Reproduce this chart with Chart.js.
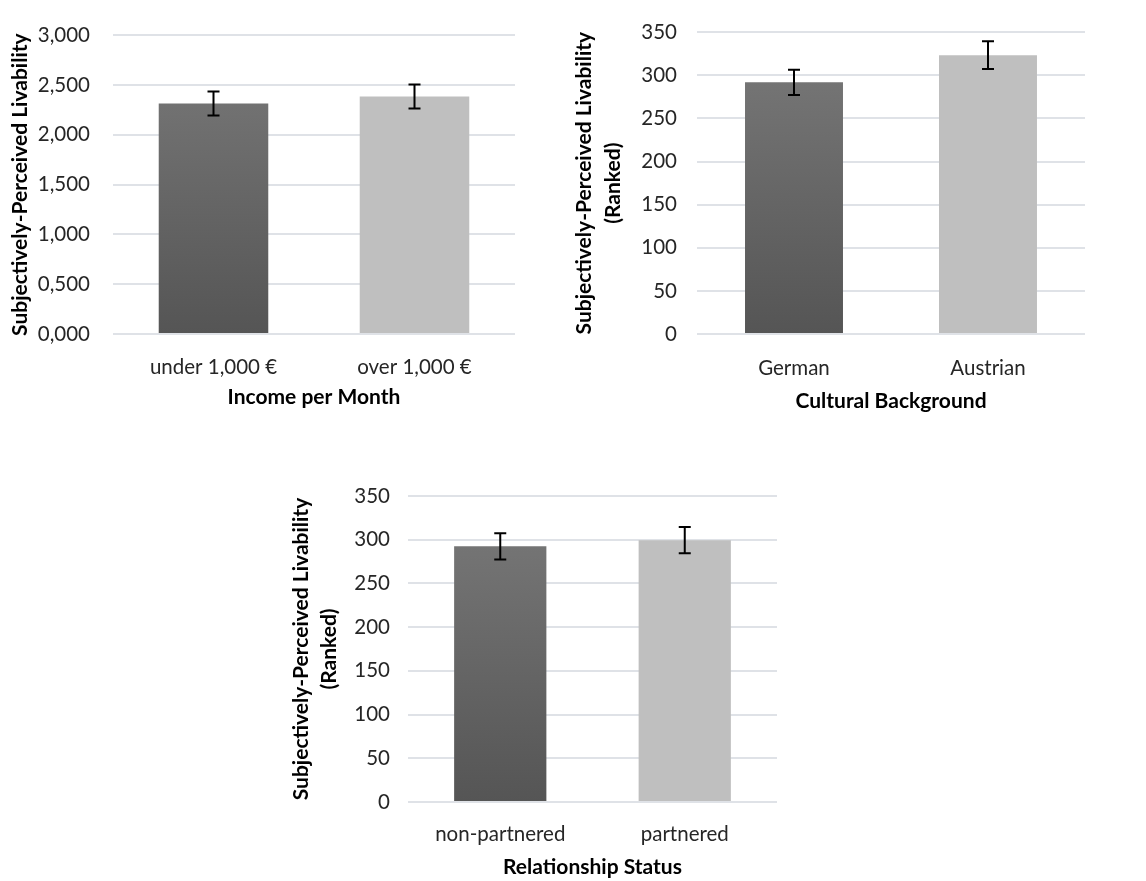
<!DOCTYPE html>
<html>
<head>
<meta charset="utf-8">
<script src="https://cdn.jsdelivr.net/npm/chart.js@4"></script>
<style>
  body { margin: 0; background: #fff; }
  #wrap { position: relative; width: 1146px; height: 881px; }
  canvas { position: absolute; }
</style>
</head>
<body>
<div id="wrap">
  <canvas id="chart1" width="530" height="420" style="left:0px;top:0px"></canvas>
  <canvas id="chart2" width="586" height="420" style="left:560px;top:0px"></canvas>
  <canvas id="chart3" width="510" height="421" style="left:280px;top:460px"></canvas>
</div>
<script>
// income groups
const incomeCats = ["under 1,000 €", "over 1,000 €"];
const incomeMeans = [2.315, 2.385];
const incomeErr = [0.12, 0.12];

// cultural background (ranked)
const cultureCats = ["German", "Austrian"];
const cultureMeans = [292, 323.5];
const cultureErr = [14.6, 16];

// relationship status (ranked)
const relCats = ["non-partnered", "partnered"];
const relMeans = [292.5, 299.5];
const relErr = [15, 15];

const yTitleMain = "Subjectively-Perceived Livability";

Chart.defaults.font.family = "Lato, 'Open Sans', sans-serif";
Chart.defaults.color = "#262626";

// dark bar gets a vertical gradient, light bar is flat
function barFill(ctx) {
  if (ctx.dataIndex === 1) return "#bfbfbf";
  const area = ctx.chart.chartArea;
  if (!area) return "#666666";
  const g = ctx.chart.ctx.createLinearGradient(0, area.top, 0, area.bottom);
  g.addColorStop(0, "#7a7a7a");
  g.addColorStop(1, "#555555");
  return g;
}

// whiskers drawn from the error arrays through the y scale
const errorBars = {
  id: "errorBars",
  afterDatasetsDraw(chart, args, opts) {
    const ctx = chart.ctx;
    const yScale = chart.scales.y;
    const meta = chart.getDatasetMeta(0);
    const vals = chart.data.datasets[0].data;
    ctx.save();
    ctx.strokeStyle = "#000";
    ctx.lineWidth = 2;
    meta.data.forEach((bar, i) => {
      const hi = yScale.getPixelForValue(vals[i] + opts.err[i]);
      const lo = yScale.getPixelForValue(vals[i] - opts.err[i]);
      const x = bar.x;
      ctx.beginPath();
      ctx.moveTo(x, hi); ctx.lineTo(x, lo);
      ctx.moveTo(x - 6, hi); ctx.lineTo(x + 6, hi);
      ctx.moveTo(x - 6, lo); ctx.lineTo(x + 6, lo);
      ctx.stroke();
    });
    ctx.restore();
  }
};

function makeChart(id, cats, means, err, cfg) {
  return new Chart(document.getElementById(id), {
    type: "bar",
    data: {
      labels: cats,
      datasets: [{
        data: means,
        backgroundColor: barFill,
        categoryPercentage: 1,
        barPercentage: cfg.barPct
      }]
    },
    options: {
      responsive: false,
      animation: false,
      devicePixelRatio: 1,
      layout: { padding: cfg.pad },
      plugins: {
        legend: { display: false },
        tooltip: { enabled: false },
        errorBars: { err: err }
      },
      scales: {
        x: {
          grid: { display: false, drawTicks: false },
          border: { display: false },
          ticks: { padding: cfg.xTickPad, font: { size: 20.5 }, color: "#262626" },
          title: {
            display: true, text: cfg.xTitle, color: "#000",
            font: { size: 21, weight: "bold" }, padding: { top: 4, bottom: cfg.xTitlePad }
          },
          afterFit: s => { s.height = cfg.xHeight; }
        },
        y: {
          min: 0, max: cfg.max,
          grid: { color: "#dfe2e7", lineWidth: 2, drawTicks: false },
          border: { display: false },
          ticks: {
            stepSize: cfg.step, padding: cfg.tickPad, font: { size: 20.5 }, color: "#262626",
            callback: cfg.fmt
          },
          title: {
            display: true, text: cfg.yTitle, color: "#000",
            font: { size: 21, weight: "bold", lineHeight: cfg.yLine }, padding: { top: 4, bottom: 0 }
          },
          afterFit: s => { s.width = cfg.yWidth; }
        }
      }
    },
    plugins: [errorBars]
  });
}

makeChart("chart1", incomeCats, incomeMeans, incomeErr, {
  barPct: 0.545, max: 3, step: 0.5,
  fmt: v => v.toFixed(3).replace(".", ","),
  pad: { left: 4, top: 28, right: 15, bottom: 0 },
  yWidth: 109, tickPad: 23, yLine: 1.2, xHeight: 86, xTickPad: 21, xTitlePad: 10,
  xTitle: "Income per Month", yTitle: yTitleMain
});

makeChart("chart2", cultureCats, cultureMeans, cultureErr, {
  barPct: 0.505, max: 350, step: 50,
  fmt: v => String(v),
  pad: { left: 5.5, top: 29, right: 61, bottom: 0 },
  yWidth: 131.5, tickPad: 20, yLine: 1.38, xHeight: 86, xTickPad: 22, xTitlePad: 6,
  xTitle: "Cultural Background", yTitle: [yTitleMain, "(Ranked)"]
});

makeChart("chart3", relCats, relMeans, relErr, {
  barPct: 0.5, max: 350, step: 50,
  fmt: v => String(v),
  pad: { left: 3.75, top: 36, right: 13, bottom: 0 },
  yWidth: 124.25, tickPad: 18, yLine: 1.31, xHeight: 79, xTickPad: 20, xTitlePad: 1,
  xTitle: "Relationship Status", yTitle: [yTitleMain, "(Ranked)"]
});
</script>
</body>
</html>
